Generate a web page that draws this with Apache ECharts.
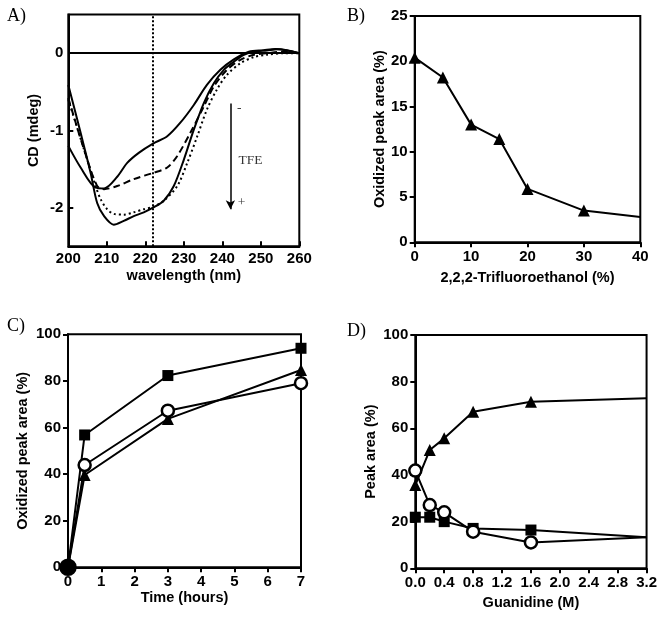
<!DOCTYPE html>
<html><head><meta charset="utf-8">
<script src="https://cdn.jsdelivr.net/npm/echarts@6/dist/echarts.min.js"></script>
<style>html,body{margin:0;padding:0;background:#fff}#c{width:660px;height:617px}</style>
</head><body><div id="c"></div>
<script>
// ---------- Panel A: CD spectra ----------
const cdA_wl = [200, 203.2, 207.1, 209.3, 212.7, 215.3, 218.3, 222, 225.7, 229.1, 232.6, 236, 239.5, 243, 246.9, 250.7, 253.8, 256.8, 260];
const cdA_val = [-1.20, -1.48, -1.74, -1.75, -1.60, -1.42, -1.29, -1.17, -1.075, -0.90, -0.67, -0.41, -0.215, -0.08, 0.02, 0.04, 0.055, 0.04, 0];
const cdB_wl = [200, 204.1, 207.5, 209.3, 212.7, 217, 222, 225.7, 228.3, 231.7, 235.2, 237.8, 241.2, 244.7, 248.2, 251.6, 255.9, 260];
const cdB_val = [-0.58, -1.25, -1.72, -1.76, -1.72, -1.63, -1.55, -1.48, -1.33, -1.03, -0.69, -0.43, -0.215, -0.086, -0.02, 0, 0.02, 0];
const cdC_wl = [200, 203.2, 205.8, 207.5, 209.3, 211.8, 214.4, 217, 219.6, 222, 224.8, 227.4, 230, 232.6, 235.2, 237.8, 240.4, 243, 245.6, 248.2, 251.6, 254.2, 256.8, 260];
const cdC_val = [-0.41, -1.03, -1.55, -1.94, -2.11, -2.22, -2.17, -2.11, -2.06, -2.0, -1.91, -1.72, -1.38, -0.99, -0.645, -0.39, -0.215, -0.11, -0.02, 0.02, 0.035, 0.05, 0.035, 0];
const cdD_wl = [200, 204.1, 207.1, 208.4, 210.1, 211.8, 214.4, 217, 219.6, 222, 224.8, 228.3, 230.9, 233.5, 236, 238.6, 241.2, 244.7, 248.2, 251.6, 255.9, 260];
const cdD_val = [-0.60, -1.25, -1.72, -1.89, -2.02, -2.08, -2.09, -2.06, -2.02, -1.99, -1.91, -1.72, -1.42, -1.075, -0.73, -0.47, -0.28, -0.13, -0.05, -0.02, 0, 0];
const cdRefWavelength = 222;
const tfeArrowX = 242.1, tfeArrowFrom = -0.65, tfeArrowTo = -2.02;
const tfeLabels = [[244.4, -0.71, '-'], [247.3, -1.39, 'TFE'], [245.0, -1.93, '+']];
const aYTicks = [-2, -1, 0];

// ---------- Panel B ----------
const tfePercent = [0, 5, 10, 15, 20, 30, 40];
const tfeOxidized = [20.4, 18.2, 13.0, 11.4, 5.9, 3.5, 2.8];

// ---------- Panel C ----------
const timeHours = [0, 0.5, 3, 7];
const oxSquare = [0, 56.8, 82.3, 94.0];
const oxCircle = [0, 43.9, 67.2, 79.0];
const oxTriangle = [0, 39.6, 63.7, 84.7];

// ---------- Panel D ----------
const guanidineM = [0, 0.2, 0.4, 0.8, 1.6, 3.2];
const gTriangle = [35.7, 50.7, 55.7, 67.1, 71.4, 72.9];
const gCircle = [41.9, 27.1, 24.0, 15.7, 11.1, 13.3];
const gSquare = [21.9, 21.9, 20.0, 17.1, 16.4, 13.3];

const SANS = '"Liberation Sans", Arial, sans-serif';
const SERIF = '"Liberation Serif", "Times New Roman", serif';
const BLK = '#000';

function pairs(xs, ys) { return xs.map((x, i) => [x, ys[i]]); }
function pairsNoLastMarker(xs, ys) {
  return xs.map((x, i) => i === xs.length - 1 ? { value: [x, ys[i]], symbol: 'none' } : [x, ys[i]]);
}

function xAxisCfg(gi, o) {
  return Object.assign({
    type: 'value', gridIndex: gi, nameLocation: 'middle',
    nameTextStyle: { fontFamily: SANS, fontWeight: 'bold', fontSize: 14.5, color: BLK },
    axisLine: { onZero: false, lineStyle: { color: BLK, width: 2 } },
    axisTick: { show: true, length: 5, lineStyle: { color: BLK, width: 2 } },
    axisLabel: { fontFamily: SANS, fontWeight: 'bold', fontSize: 15, color: BLK, margin: 7 },
    splitLine: { show: false }
  }, o);
}
function yAxisCfg(gi, o) {
  return Object.assign({
    type: 'value', gridIndex: gi, nameLocation: 'middle', nameRotate: 90,
    nameTextStyle: { fontFamily: SANS, fontWeight: 'bold', fontSize: 14.5, color: BLK },
    axisLine: { onZero: false, lineStyle: { color: BLK, width: 2 } },
    axisTick: { show: true, length: 5, lineStyle: { color: BLK, width: 2 } },
    axisLabel: { fontFamily: SANS, fontWeight: 'bold', fontSize: 15, color: BLK, margin: 7 },
    splitLine: { show: false }
  }, o);
}
const gridStyle = { show: true, borderColor: BLK, borderWidth: 2, backgroundColor: 'transparent' };

function lineSeries(xi, data, extra) {
  return Object.assign({
    type: 'line', xAxisIndex: xi, yAxisIndex: xi, data: data, clip: false,
    lineStyle: { color: BLK, width: 2 }, itemStyle: { color: BLK },
    symbol: 'none', animation: false
  }, extra || {});
}

const chart = echarts.init(document.getElementById('c'), null, { renderer: 'canvas' });
chart.setOption({
  backgroundColor: '#fff',
  animation: false,
  title: [
    { text: 'A)', left: 2, top: 2, textStyle: { fontFamily: SERIF, fontWeight: 'normal', fontSize: 18, color: BLK } },
    { text: 'B)', left: 342, top: 2, textStyle: { fontFamily: SERIF, fontWeight: 'normal', fontSize: 18, color: BLK } },
    { text: 'C)', left: 2, top: 312, textStyle: { fontFamily: SERIF, fontWeight: 'normal', fontSize: 18, color: BLK } },
    { text: 'D)', left: 342, top: 317, textStyle: { fontFamily: SERIF, fontWeight: 'normal', fontSize: 18, color: BLK } }
  ],
  grid: [
    Object.assign({ left: 68.3, top: 14.6, width: 231, height: 231.7 }, gridStyle),
    Object.assign({ left: 414.7, top: 16, width: 225.6, height: 226.3 }, gridStyle),
    Object.assign({ left: 68, top: 334.3, width: 233, height: 233 }, gridStyle),
    Object.assign({ left: 415.3, top: 335, width: 231.4, height: 233.3 }, gridStyle)
  ],
  xAxis: [
    xAxisCfg(0, { min: 200, max: 260, interval: 10, name: 'wavelength (nm)', nameGap: 22,
      axisTick: { show: true, inside: true, length: 5, lineStyle: { color: BLK, width: 2 } },
      axisLabel: { fontFamily: SANS, fontWeight: 'bold', fontSize: 15, color: BLK, margin: 5 } }),
    xAxisCfg(1, { min: 0, max: 40, interval: 10, name: '2,2,2-Trifluoroethanol (%)', nameGap: 28 }),
    xAxisCfg(2, { min: 0, max: 7, interval: 1, name: 'Time (hours)', nameGap: 21 }),
    xAxisCfg(3, { min: 0, max: 3.2, interval: 0.4, name: 'Guanidine (M)', nameGap: 27,
      axisLabel: { fontFamily: SANS, fontWeight: 'bold', fontSize: 15, color: BLK, margin: 7,
        formatter: v => v.toFixed(1) } })
  ],
  yAxis: [
    yAxisCfg(0, { min: -2.5, max: 0.5, interval: 0.5, name: 'CD (mdeg)', nameGap: 27,
      axisTick: { show: true, inside: true, length: 5, customValues: aYTicks, lineStyle: { color: BLK, width: 2 } },
      axisLabel: { fontFamily: SANS, fontWeight: 'bold', fontSize: 15, color: BLK, margin: 5, customValues: aYTicks } }),
    yAxisCfg(1, { min: 0, max: 25, interval: 5, name: 'Oxidized peak area (%)', nameGap: 25 }),
    yAxisCfg(2, { min: 0, max: 100, interval: 20, name: 'Oxidized peak area (%)', nameGap: 38 }),
    yAxisCfg(3, { min: 0, max: 100, interval: 20, name: 'Peak area (%)', nameGap: 37 })
  ],
  series: [
    // Panel A
    lineSeries(0, pairs(cdA_wl, cdA_val), { smooth: 0.3,
      markLine: { silent: true, symbol: 'none', label: { show: false },
        data: [
          [{ coord: [200, 0] }, { coord: [260, 0], lineStyle: { type: 'solid', color: BLK, width: 2 } }],
          [{ coord: [cdRefWavelength, -2.5] }, { coord: [cdRefWavelength, 0.5] }]
        ],
        lineStyle: { type: 'dotted', color: BLK, width: 2 } } }),
    lineSeries(0, pairs(cdB_wl, cdB_val), { smooth: 0.3, lineStyle: { color: BLK, width: 2, type: [7, 4] } }),
    lineSeries(0, pairs(cdC_wl, cdC_val), { smooth: 0.3 }),
    lineSeries(0, pairs(cdD_wl, cdD_val), { smooth: 0.3, lineStyle: { color: BLK, width: 2, type: [2, 3] } }),
    lineSeries(0, [[tfeArrowX, tfeArrowFrom], [tfeArrowX, tfeArrowTo]], {
      markLine: { silent: true, symbol: ['none', 'arrow'], symbolSize: [7, 9], label: { show: false },
        lineStyle: { type: 'solid', color: BLK, width: 1.5 },
        data: [[{ coord: [tfeArrowX, tfeArrowFrom] }, { coord: [tfeArrowX, tfeArrowTo] }]] },
      lineStyle: { width: 0, opacity: 0 } }),
    { type: 'scatter', xAxisIndex: 0, yAxisIndex: 0, symbolSize: 0, silent: true,
      data: tfeLabels,
      label: { show: true, position: 'inside', formatter: p => p.value[2],
        fontFamily: SERIF, fontSize: 13.5, color: BLK } },
    // Panel B
    lineSeries(1, pairsNoLastMarker(tfePercent, tfeOxidized), { symbol: 'triangle', symbolSize: 12 }),
    // Panel C
    lineSeries(2, pairs(timeHours, oxTriangle), { symbol: 'triangle', symbolSize: 12 }),
    lineSeries(2, pairs(timeHours, oxSquare), { symbol: 'rect', symbolSize: 11 }),
    lineSeries(2, timeHours.map((t, i) => i === 0 ? { value: [t, oxCircle[i]], symbolSize: 15, itemStyle: { color: BLK } } : [t, oxCircle[i]]),
      { symbol: 'circle', symbolSize: 12, itemStyle: { color: '#fff', borderColor: BLK, borderWidth: 2.5 } }),
    // Panel D
    lineSeries(3, pairsNoLastMarker(guanidineM, gSquare), { symbol: 'rect', symbolSize: 11 }),
    lineSeries(3, pairsNoLastMarker(guanidineM, gTriangle), { symbol: 'triangle', symbolSize: 12 }),
    lineSeries(3, pairsNoLastMarker(guanidineM, gCircle),
      { symbol: 'circle', symbolSize: 12, itemStyle: { color: '#fff', borderColor: BLK, borderWidth: 2.5 } })
  ]
});
</script>
</body></html>
